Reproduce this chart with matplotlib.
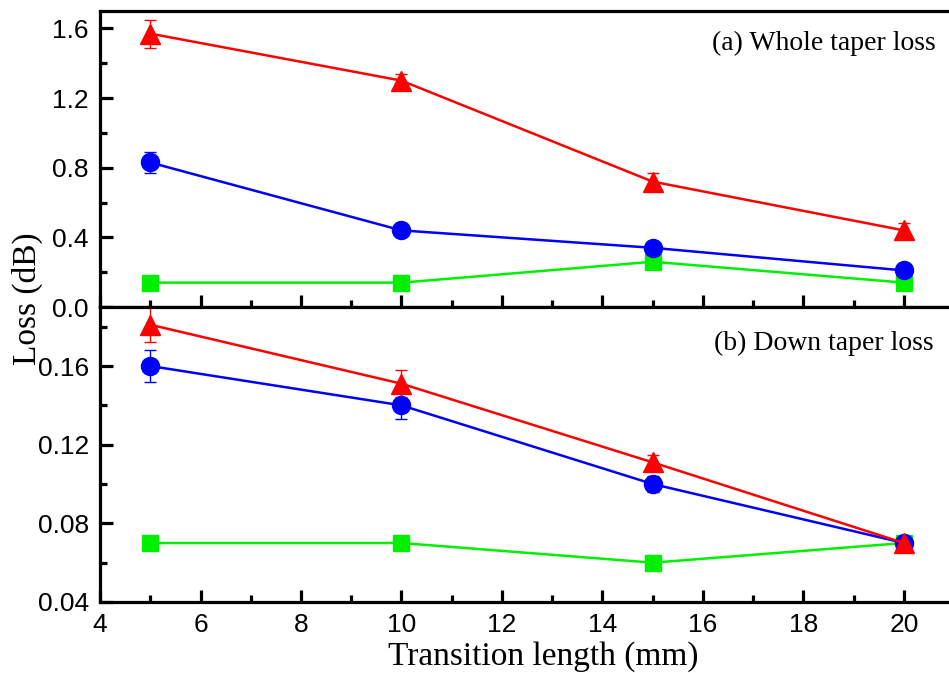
import matplotlib.pyplot as plt
from matplotlib.ticker import MultipleLocator

length = [5, 10, 15, 20]

# (a) whole taper loss
whole_red = [1.57, 1.30, 0.72, 0.44]
whole_red_err = [0.08, 0.04, 0.05, 0.04]
whole_blue = [0.83, 0.44, 0.34, 0.21]
whole_blue_err = [0.06, 0.02, 0.02, 0.02]
whole_green = [0.14, 0.14, 0.26, 0.14]
whole_green_err = [0.01, 0.01, 0.03, 0.02]

# (b) down taper loss
down_red = [0.181, 0.151, 0.111, 0.070]
down_red_err = [0.009, 0.007, 0.004, 0.003]
down_blue = [0.160, 0.140, 0.100, 0.070]
down_blue_err = [0.008, 0.007, 0.004, 0.003]
down_green = [0.070, 0.070, 0.060, 0.070]
down_green_err = [0.001, 0.001, 0.001, 0.001]

series_style = [
    ('#00f000', 's', 11),
    ('#0000ff', 'o', 13),
    ('#ff0000', '^', 14),
]

fig = plt.figure(figsize=(9.49, 6.73), dpi=100)
ax_a = fig.add_axes([0.1054, 0.5438, 0.9, 0.4399])
ax_b = fig.add_axes([0.1054, 0.1055, 0.9, 0.4383], sharex=ax_a)

panels = [
    (ax_a, [(whole_green, whole_green_err), (whole_blue, whole_blue_err), (whole_red, whole_red_err)]),
    (ax_b, [(down_green, down_green_err), (down_blue, down_blue_err), (down_red, down_red_err)]),
]

for ax, data in panels:
    for (vals, err), (color, marker, ms) in zip(data, series_style):
        ax.errorbar(length, vals, yerr=err, color=color, marker=marker,
                    markersize=ms, linewidth=1.8, elinewidth=1.0,
                    capsize=4, capthick=1.0)
    for side in ax.spines.values():
        side.set_linewidth(2.3)
    ax.tick_params(which='both', direction='in', width=2.3, top=False, right=False)
    ax.tick_params(which='major', length=9)
    ax.tick_params(which='minor', length=5)
    ax.tick_params(axis='y', pad=8)
    ax.tick_params(axis='x', pad=8)

ax_a.set_xlim(4, 21)
ax_a.set_ylim(0, 1.70)
ax_a.yaxis.set_minor_locator(MultipleLocator(0.2))
ax_a.set_yticks([0.0, 0.4, 0.8, 1.2, 1.6])
ax_a.set_yticklabels(['0.0', '0.4', '0.8', '1.2', '1.6'])
ax_a.tick_params(labelbottom=False)

ax_b.set_ylim(0.04, 0.19)
ax_b.set_yticks([0.04, 0.08, 0.12, 0.16])
ax_b.set_yticklabels(['0.04', '0.08', '0.12', '0.16'])
ax_b.yaxis.set_minor_locator(MultipleLocator(0.02))
ax_b.xaxis.set_minor_locator(MultipleLocator(1))
ax_b.set_xticks([4, 6, 8, 10, 12, 14, 16, 18, 20])
ax_b.set_xticklabels(['4', '6', '8', '10', '12', '14', '16', '18', '20'])
for lab in ax_b.get_yticklabels() + ax_b.get_xticklabels() + ax_a.get_yticklabels():
    lab.set_family('Liberation Sans')
    lab.set_fontsize(19)

ax_a.text(0.978, 0.889, '(a) Whole taper loss', transform=ax_a.transAxes,
          ha='right', va='center', family='Liberation Serif', fontsize=20)
ax_b.text(0.976, 0.878, '(b) Down taper loss', transform=ax_b.transAxes,
          ha='right', va='center', family='Liberation Serif', fontsize=20)

fig.text(0.572, 0.024, 'Transition length (mm)', ha='center', va='center',
         family='Liberation Serif', fontsize=24)
fig.text(0.029, 0.556, 'Loss (dB)', rotation=90, ha='center', va='center',
         family='Liberation Serif', fontsize=24)

fig.savefig('out.png', dpi=100)
